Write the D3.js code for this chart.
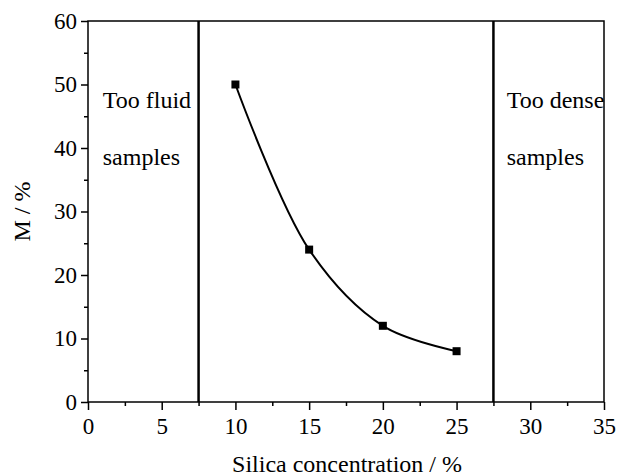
<!DOCTYPE html>
<html><head><meta charset="utf-8">
<script src="https://cdn.jsdelivr.net/npm/d3@7"></script>
</head><body style="margin:0">
<svg id="c" width="618" height="476" style="display:block"></svg>
<script>
const silica = [10, 15, 20, 25];
const mValues = [50, 24, 12, 8];
const boundaries = [7.5, 27.5];
const xTicks = [0, 5, 10, 15, 20, 25, 30, 35];
const yTicks = [0, 10, 20, 30, 40, 50, 60];
const xTitle = "Silica concentration / %";
const yTitle = "M / %";
const regionLabels = [["Too fluid", "samples"], ["Too dense", "samples"]];
const regionX = [1, 28.4];

const FONT = "Liberation Serif";
const svg = d3.select("#c");
const L = 88, R = 604, T = 21, B = 402;
const x = d3.scaleLinear().domain([0, 35]).range([L, R]);
const y = d3.scaleLinear().domain([0, 60]).range([B, T]);

const xMinor = d3.range(0, 35.01, 2.5).filter(v => v % 5 !== 0);
const yMinor = d3.range(0, 60.01, 5).filter(v => v % 10 !== 0);

function styleAxis(g) {
  g.attr("font-family", FONT).attr("font-size", 23);
  g.select(".domain").remove();
  g.selectAll(".tick line").attr("stroke", "#000").attr("stroke-width", 1.5);
  g.selectAll(".tick text").attr("fill", "#000");
}
const gxb = svg.append("g").attr("transform", `translate(0,${B})`);
gxb.append("g").call(d3.axisBottom(x).tickValues(xMinor).tickSize(4).tickFormat(() => null)).call(styleAxis);
gxb.append("g").call(d3.axisBottom(x).tickValues(xTicks).tickSize(8).tickPadding(8).tickFormat(d3.format("d"))).call(styleAxis);
const gyl = svg.append("g").attr("transform", `translate(${L},0)`);
gyl.append("g").call(d3.axisLeft(y).tickValues(yMinor).tickSize(4).tickFormat(() => null)).call(styleAxis);
gyl.append("g").call(d3.axisLeft(y).tickValues(yTicks).tickSize(7).tickPadding(4).tickFormat(d3.format("d"))).call(styleAxis);
svg.selectAll(".tick text").filter(function () { return !this.textContent; }).remove();

svg.append("rect").attr("x", L).attr("y", T).attr("width", R - L).attr("height", B - T)
  .attr("fill", "none").attr("stroke", "#000").attr("stroke-width", 1.5);

svg.selectAll(".bnd").data(boundaries).enter().append("line")
  .attr("x1", d => x(d)).attr("x2", d => x(d)).attr("y1", T).attr("y2", B)
  .attr("stroke", "#000").attr("stroke-width", 2.5);

const pts = silica.map((s, i) => [s, mValues[i]]);
svg.append("path").datum(pts)
  .attr("d", d3.line().x(d => x(d[0])).y(d => y(d[1])).curve(d3.curveCatmullRom))
  .attr("fill", "none").attr("stroke", "#000").attr("stroke-width", 2);
svg.selectAll(".pt").data(pts).enter().append("rect")
  .attr("x", d => x(d[0]) - 4).attr("y", d => y(d[1]) - 4).attr("width", 8).attr("height", 8)
  .attr("fill", "#000");

regionLabels.forEach((lines, i) => {
  lines.forEach((t, j) => {
    const tr = i === 0 ? `translate(${x(regionX[i])},${108 + j * 57})`
                       : `translate(${x(regionX[i])},${108 + j * 57}) rotate(0.01)`;
    svg.append("text").attr("transform", tr)
      .attr("font-family", FONT).attr("font-size", 24).text(t);
  });
});

svg.append("text").attr("x", 347).attr("y", 472).attr("text-anchor", "middle")
  .attr("font-family", "Times New Roman").attr("font-size", 24).text(xTitle);
svg.append("text").attr("transform", `translate(30,${(T + B) / 2}) rotate(-90)`)
  .attr("text-anchor", "middle").attr("font-family", FONT).attr("font-size", 24)
  .text(yTitle);
</script>
</body></html>
